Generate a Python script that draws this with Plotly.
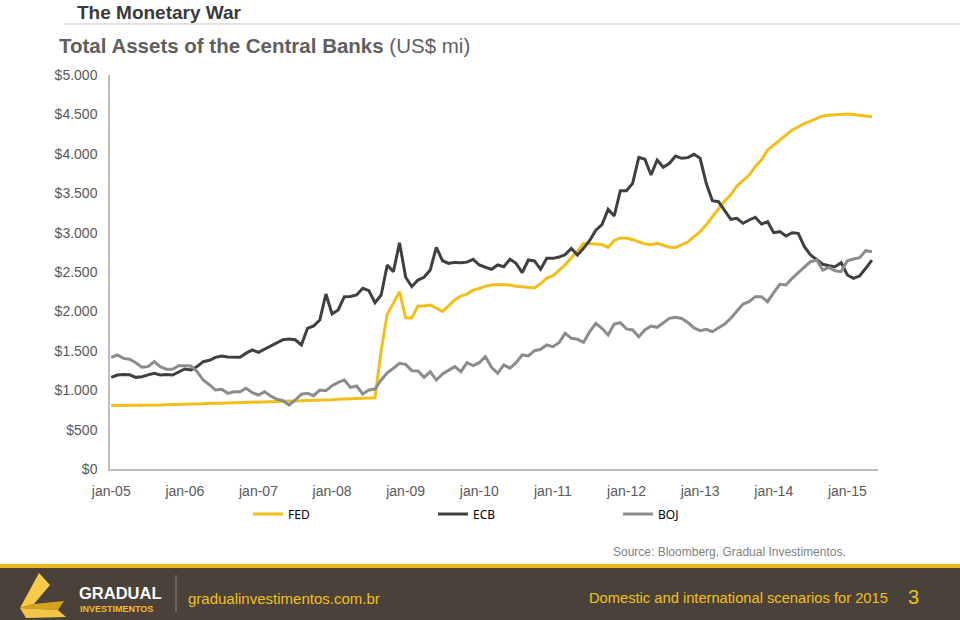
import plotly.graph_objects as go

# ---------------- data (US$ bn, monthly jan-05 .. may-15) ----------------
fed = [805, 805, 806, 806, 808, 808, 810, 812, 812, 815, 816, 820,
       820, 822, 825, 828, 835, 832, 835, 838, 840, 842, 845, 848,
       848, 850, 852, 855, 858, 860, 862, 865, 868, 870, 872, 875,
       880, 885, 888, 890, 892, 895, 900, 905, 1500, 1967, 2103, 2250,
       1920, 1916, 2068, 2068, 2081, 2040, 2000, 2070, 2145, 2195, 2220, 2270,
       2290, 2320, 2335, 2340, 2338, 2335, 2320, 2310, 2300, 2297, 2350, 2424,
       2450, 2520, 2589, 2680, 2760, 2864, 2860, 2858, 2848, 2813, 2900, 2931,
       2930, 2910, 2880, 2855, 2845, 2864, 2840, 2815, 2810, 2840, 2880, 2950,
       3012, 3100, 3202, 3300, 3400, 3480, 3590, 3660, 3731, 3840, 3920, 4048,
       4110, 4175, 4240, 4302, 4340, 4385, 4415, 4450, 4480, 4488, 4492, 4500,
       4505, 4498, 4490, 4480, 4471]

ecb = [1163, 1193, 1200, 1195, 1163, 1172, 1195, 1214, 1193, 1200, 1193, 1230,
       1269, 1256, 1300, 1362, 1380, 1417, 1434, 1420, 1420, 1417, 1470, 1510,
       1481, 1520, 1560, 1595, 1640, 1650, 1640, 1574, 1785, 1815, 1891, 2221,
       1967, 2018, 2187, 2190, 2208, 2293, 2263, 2111, 2208, 2589, 2504, 2872,
       2433, 2314, 2398, 2433, 2525, 2813, 2643, 2610, 2622, 2618, 2625, 2661,
       2589, 2560, 2534, 2589, 2567, 2661, 2610, 2491, 2652, 2640, 2534, 2673,
       2673, 2690, 2720, 2800, 2716, 2800, 2900, 3030, 3100, 3295, 3211, 3532,
       3532, 3625, 3955, 3930, 3731, 3921, 3829, 3879, 3972, 3943, 3951, 3993,
       3943, 3625, 3405, 3392, 3287, 3169, 3181, 3118, 3160, 3194, 3109, 3139,
       2999, 3012, 2957, 2999, 2991, 2821, 2716, 2661, 2598, 2580, 2567, 2618,
       2462, 2420, 2449, 2547, 2652]

boj = [1417, 1447, 1404, 1392, 1349, 1291, 1299, 1362, 1299, 1265, 1265, 1311,
       1310, 1307, 1235, 1129, 1070, 1002, 1011, 960, 981, 981, 1024, 968,
       939, 981, 926, 884, 867, 812, 876, 950, 960, 930, 1002, 994,
       1058, 1100, 1129, 1036, 1053, 952, 1002, 1015, 1130, 1220, 1278, 1341,
       1328, 1248, 1244, 1163, 1235, 1129, 1206, 1248, 1299, 1235, 1349, 1311,
       1349, 1425, 1290, 1214, 1320, 1278, 1349, 1447, 1434, 1501, 1519, 1574,
       1552, 1603, 1722, 1658, 1646, 1607, 1743, 1849, 1785, 1700, 1840, 1857,
       1777, 1764, 1679, 1764, 1815, 1798, 1857, 1912, 1925, 1910, 1860, 1790,
       1755, 1773, 1743, 1793, 1840, 1912, 2009, 2094, 2123, 2187, 2187, 2123,
       2238, 2343, 2335, 2420, 2491, 2567, 2631, 2652, 2525, 2559, 2516, 2504,
       2643, 2665, 2681, 2770, 2758]

months = list(range(len(fed)))
x_tick_vals = [0, 12, 24, 36, 48, 60, 72, 84, 96, 108, 120]
x_tick_text = ["jan-05", "jan-06", "jan-07", "jan-08", "jan-09", "jan-10",
               "jan-11", "jan-12", "jan-13", "jan-14", "jan-15"]
y_tick_vals = [0, 500, 1000, 1500, 2000, 2500, 3000, 3500, 4000, 4500, 5000]
y_tick_text = ["$0", "$500", "$1.000", "$1.500", "$2.000", "$2.500",
               "$3.000", "$3.500", "$4.000", "$4.500", "$5.000"]

# ---------------- layout helpers ----------------
W, H = 960, 620
L, R, T, B = 110, 878, 75, 469


def px(x):
    return (x - L) / (R - L)


def py(y):
    return (B - y) / (B - T)


FONT = "Liberation Sans, Arial, sans-serif"
YEL = "#F2C01E"
BROWN = "#4A423A"

fig = go.Figure()
fig.add_trace(go.Scatter(x=months, y=fed, name="FED", mode="lines",
                         line=dict(color="#F2BF1A", width=3)))
fig.add_trace(go.Scatter(x=months, y=ecb, name="ECB", mode="lines",
                         line=dict(color="#404040", width=3)))
fig.add_trace(go.Scatter(x=months, y=boj, name="BOJ", mode="lines",
                         line=dict(color="#8C8C8C", width=3)))

shapes = []
# header rule
shapes.append(dict(type="line", xref="paper", yref="paper",
                   x0=px(64), x1=px(960), y0=py(24), y1=py(24),
                   line=dict(color="#D9D9D9", width=1.5)))
# footer band
shapes.append(dict(type="rect", xref="paper", yref="paper",
                   x0=px(0), x1=px(960), y0=py(566), y1=py(621),
                   fillcolor=BROWN, line=dict(width=0), layer="below"))
shapes.append(dict(type="rect", xref="paper", yref="paper",
                   x0=px(0), x1=px(960), y0=py(564), y1=py(568),
                   fillcolor="#E8B923", line=dict(width=0)))
# divider in footer
shapes.append(dict(type="line", xref="paper", yref="paper",
                   x0=px(176), x1=px(176), y0=py(575), y1=py(612),
                   line=dict(color="#8A8075", width=1)))


def poly(points, color):
    d = "M " + " L ".join(f"{px(a):.5f},{py(b):.5f}" for a, b in points) + " Z"
    return dict(type="path", xref="paper", yref="paper", path=d,
                fillcolor=color, line=dict(width=0))


# logo (stylised chevron)
shapes.append(poly([(39, 573), (50, 585), (34, 604), (20, 608)], "#F7CB4A"))
shapes.append(poly([(20, 608), (34, 604), (64, 601), (58, 610)], "#D9A21C"))
shapes.append(poly([(20, 608), (58, 610), (66, 617), (26, 618)], "#F3C64A"))

annotations = [
    dict(text="<b>The Monetary War</b>", x=px(75), y=py(12), xref="paper", yref="paper",
         xanchor="left", yanchor="middle", showarrow=False,
         font=dict(family=FONT, size=19, color="#3A3A3A")),
    dict(text="<b>Total Assets of the Central Banks</b> (US$ mi)", x=px(57), y=py(46),
         xref="paper", yref="paper", xanchor="left", yanchor="middle", showarrow=False,
         font=dict(family=FONT, size=20.5, color="#5F5F5F")),
    dict(text="Source: Bloomberg, Gradual Investimentos.", x=px(848), y=py(552),
         xref="paper", yref="paper", xanchor="right", yanchor="middle", showarrow=False,
         font=dict(family=FONT, size=12, color="#7F7F7F")),
    dict(text="<b>GRADUAL</b>", x=px(77), y=py(593), xref="paper", yref="paper",
         xanchor="left", yanchor="middle", showarrow=False,
         font=dict(family=FONT, size=16.5, color="#FFFFFF")),
    dict(text="<b>INVESTIMENTOS</b>", x=px(78), y=py(609), xref="paper", yref="paper",
         xanchor="left", yanchor="middle", showarrow=False,
         font=dict(family=FONT, size=9, color=YEL)),
    dict(text="gradualinvestimentos.com.br", x=px(186), y=py(598), xref="paper", yref="paper",
         xanchor="left", yanchor="middle", showarrow=False,
         font=dict(family=FONT, size=15, color=YEL)),
    dict(text="Domestic and international scenarios for 2015", x=px(890), y=py(598),
         xref="paper", yref="paper", xanchor="right", yanchor="middle", showarrow=False,
         font=dict(family=FONT, size=14.7, color=YEL)),
    dict(text="3", x=px(913), y=py(597), xref="paper", yref="paper",
         xanchor="center", yanchor="middle", showarrow=False,
         font=dict(family=FONT, size=20, color=YEL)),
]

fig.update_layout(
    width=W, height=H,
    margin=dict(l=L, r=W - R, t=T, b=H - B, pad=0),
    paper_bgcolor="white", plot_bgcolor="white",
    showlegend=True,
    legend=dict(orientation="h", x=px(248), y=py(514), xanchor="left", yanchor="middle",
                entrywidth=140, entrywidthmode="pixels", itemwidth=30,
                font=dict(family="Noto Sans, Open Sans, sans-serif", size=12, color="#000000"),
                bgcolor="rgba(0,0,0,0)"),
    xaxis=dict(range=[-0.2, 125], tickmode="array", tickvals=x_tick_vals, ticktext=x_tick_text,
               showgrid=False, zeroline=False, showline=True, linecolor="#BFBFBF", linewidth=1.5,
               ticks="", ticklabelstandoff=8,
               tickfont=dict(family=FONT, size=14, color="#595959")),
    yaxis=dict(range=[0, 5000], tickmode="array", tickvals=y_tick_vals, ticktext=y_tick_text,
               showgrid=False, zeroline=False, showline=True, linecolor="#BFBFBF", linewidth=1.5,
               ticks="", ticklabelstandoff=8,
               tickfont=dict(family=FONT, size=14, color="#595959")),
    shapes=shapes,
    annotations=annotations,
)

fig.write_html("out.html", config={"displayModeBar": False},
               post_script="document.body.style.margin='0';document.body.style.overflow='hidden';")
